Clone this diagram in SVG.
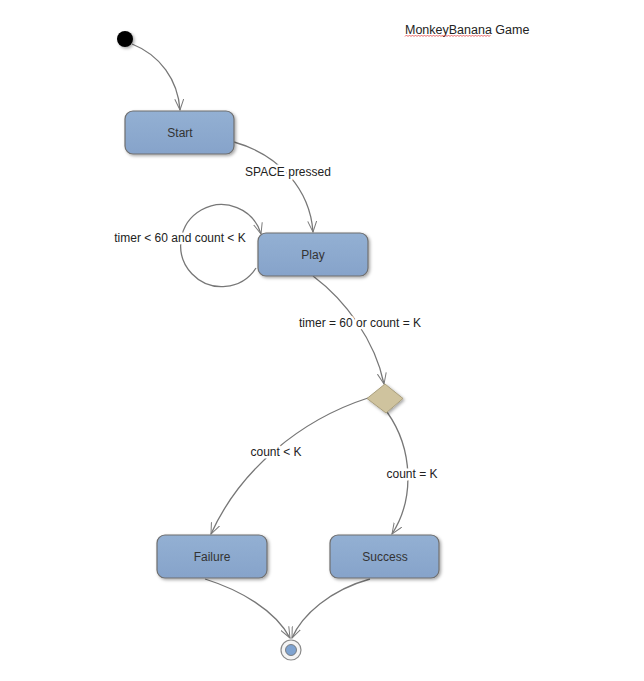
<svg xmlns="http://www.w3.org/2000/svg" width="644" height="681" viewBox="0 0 644 681">
  <defs>
    <linearGradient id="stateFill" x1="0" y1="0" x2="0" y2="1">
      <stop offset="0" stop-color="#93b0d3"/>
      <stop offset="1" stop-color="#86a3ca"/>
    </linearGradient>
    <filter id="shadow" x="-20%" y="-20%" width="150%" height="160%">
      <feDropShadow dx="1.5" dy="1.5" stdDeviation="1.5" flood-color="#000" flood-opacity="0.35"/>
    </filter>
    <marker id="open" viewBox="0 0 12 10" refX="11" refY="5" markerWidth="12" markerHeight="10" markerUnits="userSpaceOnUse" orient="auto">
      <path d="M0,0.5 L11,5 L0,9.5" fill="none" stroke="#7a7a7a" stroke-width="1"/>
    </marker>
  </defs>
  <style>
    .state { fill: url(#stateFill); stroke: #6f6f6f; stroke-width: 1.2; filter: url(#shadow); }
    .nlabel { font-family: "Liberation Sans", Arial, sans-serif; font-size: 12px; fill: #333; text-anchor: middle; }
    .edge { fill: none; stroke: #777; stroke-width: 1.3; marker-end: url(#open); }
    .elabel { font-family: "Liberation Sans", Arial, sans-serif; font-size: 12px; fill: #222; text-anchor: middle; paint-order: stroke; stroke: #fff; stroke-width: 5px; stroke-linejoin: round; }
    .title { font-family: "Liberation Sans", Arial, sans-serif; font-size: 12.5px; fill: #222; }
  </style>

  <rect width="644" height="681" fill="#fff"/>

  <!-- title -->
  <g id="title">
    <text class="title" x="405" y="34">MonkeyBanana Game</text>
    <path d="M405,36.5 l1.5,-1.5 l1.5,1.5 l1.5,-1.5 l1.5,1.5 l1.5,-1.5 l1.5,1.5 l1.5,-1.5 l1.5,1.5 l1.5,-1.5 l1.5,1.5 l1.5,-1.5 l1.5,1.5 l1.5,-1.5 l1.5,1.5 l1.5,-1.5 l1.5,1.5 l1.5,-1.5 l1.5,1.5 l1.5,-1.5 l1.5,1.5 l1.5,-1.5 l1.5,1.5 l1.5,-1.5 l1.5,1.5 l1.5,-1.5 l1.5,1.5 l1.5,-1.5 l1.5,1.5 l1.5,-1.5 l1.5,1.5 l1.5,-1.5 l1.5,1.5 l1.5,-1.5 l1.5,1.5 l1.5,-1.5 l1.5,1.5 l1.5,-1.5 l1.5,1.5 l1.5,-1.5 l1.5,1.5 l1.5,-1.5 l1.5,1.5 l1.5,-1.5 l1.5,1.5 l1.5,-1.5 l1.5,1.5 l1.5,-1.5 l1.5,1.5 l1.5,-1.5 l1.5,1.5 l1.5,-1.5 l1.5,1.5 l1.5,-1.5 l1.5,1.5 l1.5,-1.5 l1.5,1.5 l1.5,-1.5" fill="none" stroke="#e04040" stroke-width="0.8"/>
  </g>

  <!-- connectors -->
  <g id="connectors">
    <path class="edge" d="M132,44 C160,55 178,80 180,110"/>
    <path class="edge" d="M234,142 C280,155 310,190 313,232"/>
    <path class="edge" d="M256,268 A41,41 0 1 1 261,234"/>
    <path class="edge" d="M313,276 C345,300 375,340 384,384"/>
    <path class="edge" d="M368,398 C300,420 240,470 211,534"/>
    <path class="edge" d="M387,412 C414,450 414,500 392,534"/>
    <path class="edge" d="M205,579 C240,590 275,610 290,638"/>
    <path class="edge" d="M370,579 C330,590 302,615 292,638"/>
    <text class="elabel" x="288" y="176">SPACE pressed</text>
    <text class="elabel" x="180" y="242">timer &lt; 60 and count &lt; K</text>
    <text class="elabel" x="360" y="327">timer = 60 or count = K</text>
    <text class="elabel" x="276" y="456">count &lt; K</text>
    <text class="elabel" x="412" y="478">count = K</text>
  </g>

  <!-- nodes -->
  <g id="initial">
    <circle cx="125" cy="39" r="8" fill="#000" filter="url(#shadow)"/>
  </g>
  <g id="start">
    <rect class="state" x="125" y="111" width="109" height="43" rx="8"/>
    <text class="nlabel" x="180" y="137">Start</text>
  </g>
  <g id="play">
    <rect class="state" x="258" y="233" width="110" height="43" rx="8"/>
    <text class="nlabel" x="313" y="259">Play</text>
  </g>
  <g id="decision">
    <polygon points="385,384 403,398.5 386,413 367,398.5" fill="#cfc39e" stroke="#a99e7c" stroke-width="1" filter="url(#shadow)"/>
  </g>
  <g id="failure">
    <rect class="state" x="157" y="535" width="110" height="43" rx="8"/>
    <text class="nlabel" x="212" y="561">Failure</text>
  </g>
  <g id="success">
    <rect class="state" x="330" y="535" width="109" height="43" rx="8"/>
    <text class="nlabel" x="385" y="561">Success</text>
  </g>
  <g id="final">
    <circle cx="291" cy="650" r="10" fill="#f4f4f4" stroke="#8a8a8a" stroke-width="1.2"/>
    <circle cx="291" cy="650" r="5.5" fill="#7fa3d0" stroke="#6a6a6a" stroke-width="0.8"/>
  </g>
</svg>
